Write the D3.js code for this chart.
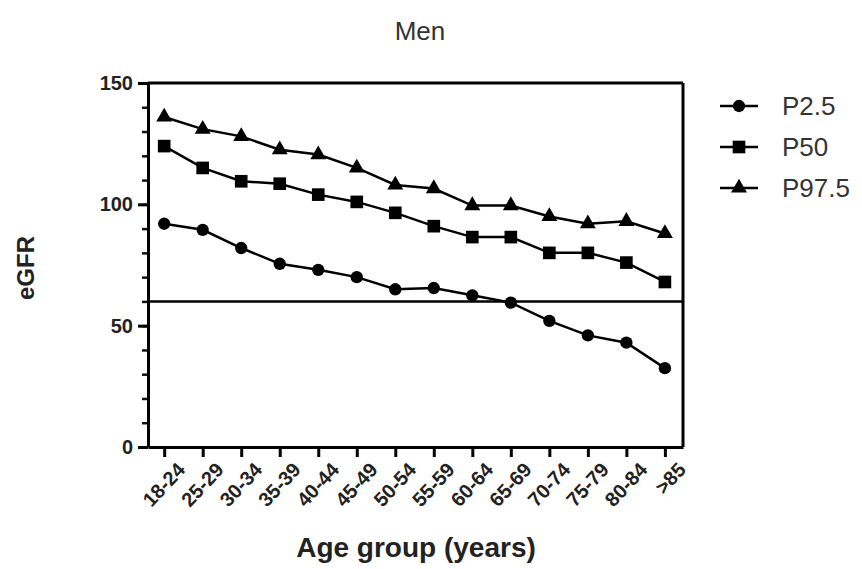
<!DOCTYPE html>
<html>
<head>
<meta charset="utf-8">
<script src="https://cdn.jsdelivr.net/npm/d3@7"></script>
<style>
  body { margin: 0; background: #fff; }
  text { font-family: "Liberation Sans", Arial, sans-serif; }
</style>
</head>
<body>
<svg id="chart"></svg>
<script>
// Data (eGFR percentiles, men)
const ageGroups = ["18-24", "25-29", "30-34", "35-39", "40-44", "45-49", "50-54",
  "55-59", "60-64", "65-69", "70-74", "75-79", "80-84", ">85"];
const p2_5 = [92, 89.5, 82, 75.5, 73, 70, 65, 65.5, 62.5, 59.5, 52, 46, 43, 32.5];
const p50 = [124, 115, 109.5, 108.5, 104, 101, 96.5, 91, 86.5, 86.5, 80, 80, 76, 68];
const p97_5 = [136, 131, 128, 122.5, 120.5, 115, 108, 106.5, 99.5, 99.5, 95, 92, 93, 88];
const refLine = 60;
const yTicks = [0, 50, 100, 150];

const series = [
  { name: "P2.5", values: p2_5, symbol: d3.symbolCircle, size: 120 },
  { name: "P50", values: p50, symbol: d3.symbolSquare, size: 160 },
  { name: "P97.5", values: p97_5, symbol: d3.symbolTriangle, size: 110 },
];

const width = 862;
const height = 569;
const plotLeft = 148, plotRight = 683, plotTop = 83, plotBottom = 447;

const svg = d3.select("#chart").attr("width", width).attr("height", height);

// Scales
const x = d3.scaleLinear().domain([-0.42, 13.47]).range([plotLeft, plotRight]);
const y = d3.scaleLinear().domain([0, 150]).range([plotBottom, plotTop]);

// Minor y ticks every 10
svg.append("g")
  .attr("transform", `translate(${plotLeft},0)`)
  .call(d3.axisLeft(y).tickValues(d3.range(0, 151, 10)).tickSize(6).tickFormat(""))
  .call((g) => g.select(".domain").remove())
  .call((g) => g.selectAll("line").attr("stroke", "#111").attr("stroke-width", 2.5));

// Major y axis with labels
const yAxis = svg.append("g")
  .attr("transform", `translate(${plotLeft},0)`)
  .call(d3.axisLeft(y).tickValues(yTicks).tickSize(10).tickSizeOuter(0).tickPadding(5));
yAxis.select(".domain").attr("stroke", "#000").attr("stroke-width", 3);
yAxis.selectAll("line").attr("stroke", "#000").attr("stroke-width", 3);
yAxis.selectAll("text")
  .attr("font-size", 20)
  .attr("font-weight", "bold")
  .attr("fill", "#222");

// X axis
const xAxis = svg.append("g")
  .attr("transform", `translate(0,${plotBottom})`)
  .call(d3.axisBottom(x).tickValues(d3.range(ageGroups.length))
    .tickFormat((i) => ageGroups[i]).tickSize(10).tickSizeOuter(0));
xAxis.select(".domain").attr("stroke", "#000").attr("stroke-width", 3);
xAxis.selectAll("line").attr("stroke", "#000").attr("stroke-width", 3);
xAxis.selectAll("text")
  .attr("font-size", 20)
  .attr("font-weight", "bold")
  .attr("fill", "#222")
  .attr("text-anchor", "end")
  .attr("dy", "0.35em")
  .attr("transform", "translate(7,10) rotate(-47)");

// Frame: top and right edges
svg.append("line")
  .attr("x1", plotLeft).attr("x2", plotRight).attr("y1", plotTop).attr("y2", plotTop)
  .attr("stroke", "#000").attr("stroke-width", 3);
svg.append("line")
  .attr("x1", plotRight).attr("x2", plotRight).attr("y1", plotTop).attr("y2", plotBottom)
  .attr("stroke", "#000").attr("stroke-width", 3);

// Reference line at 60
svg.append("line")
  .attr("x1", plotLeft).attr("x2", plotRight)
  .attr("y1", y(refLine)).attr("y2", y(refLine))
  .attr("stroke", "#000").attr("stroke-width", 2.5);

// Lines and markers
const line = d3.line().x((d, i) => x(i)).y((d) => y(d));

series.forEach((s) => {
  svg.append("path")
    .datum(s.values)
    .attr("d", line)
    .attr("fill", "none")
    .attr("stroke", "#000")
    .attr("stroke-width", 2.5);

  svg.selectAll(null)
    .data(s.values)
    .enter()
    .append("path")
    .attr("d", d3.symbol().type(s.symbol).size(s.size))
    .attr("transform", (d, i) => `translate(${x(i)},${y(d)})`)
    .attr("fill", "#000");
});

// Legend
const legend = svg.append("g").attr("transform", "translate(720,106)");
series.forEach((s, i) => {
  const row = legend.append("g").attr("transform", `translate(0,${i * 41})`);
  row.append("line")
    .attr("x1", 0).attr("x2", 38)
    .attr("stroke", "#000").attr("stroke-width", 2.5);
  row.append("path")
    .attr("d", d3.symbol().type(s.symbol).size(s.size))
    .attr("transform", "translate(19,0)")
    .attr("fill", "#000");
  row.append("text")
    .attr("x", 62)
    .attr("dy", "0.35em")
    .attr("font-size", 26)
    .attr("fill", "#333")
    .text(s.name);
});

// Title
svg.append("text")
  .attr("x", 420)
  .attr("y", 40)
  .attr("text-anchor", "middle")
  .attr("font-size", 26)
  .attr("fill", "#333")
  .text("Men");

// Axis titles
svg.append("text")
  .attr("x", 416)
  .attr("y", 557)
  .attr("text-anchor", "middle")
  .attr("font-size", 28)
  .attr("font-weight", "bold")
  .attr("fill", "#222")
  .text("Age group (years)");

svg.append("text")
  .attr("transform", "translate(34,268) rotate(-90)")
  .attr("text-anchor", "middle")
  .attr("font-size", 24)
  .attr("font-weight", "bold")
  .attr("fill", "#222")
  .text("eGFR");
</script>
</body>
</html>
